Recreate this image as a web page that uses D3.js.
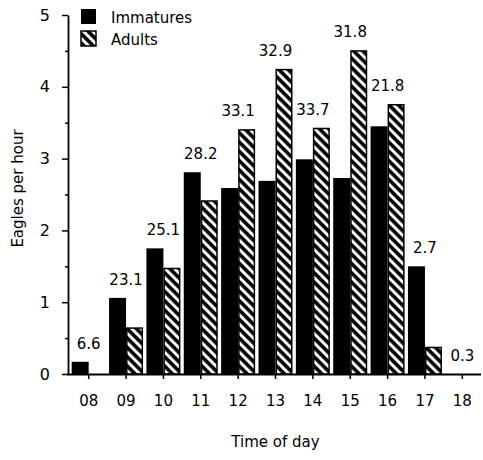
<!DOCTYPE html>
<html>
<head>
<meta charset="utf-8">
<script src="https://cdn.jsdelivr.net/npm/d3@7"></script>
<style>
  body { margin: 0; background: #fff; }
  svg { display: block; font-family: "DejaVu Sans", sans-serif; }
  text { fill: #000; }
</style>
</head>
<body>
<div id="chart"></div>
<script>
// Data
const hours = ["08", "09", "10", "11", "12", "13", "14", "15", "16", "17", "18"];
const immatures = [0.17, 1.06, 1.75, 2.81, 2.59, 2.69, 2.99, 2.73, 3.45, 1.50, 0];
const adults = [0.01, 0.65, 1.48, 2.42, 3.41, 4.25, 3.43, 4.51, 3.76, 0.38, 0];
const barLabels = ["6.6", "23.1", "25.1", "28.2", "33.1", "32.9", "33.7", "31.8", "21.8", "2.7", "0.3"];
const series = ["Immatures", "Adults"];
const yTicks = [0, 1, 2, 3, 4, 5];

const width = 483;
const height = 460;
const margin = { top: 15, right: 2, bottom: 86, left: 70 };

const svg = d3.select("#chart")
  .append("svg")
  .attr("width", width)
  .attr("height", height);

// diagonal hatch for adults
svg.append("defs").append("pattern")
  .attr("id", "hatch")
  .attr("patternUnits", "userSpaceOnUse")
  .attr("width", 6.6)
  .attr("height", 6.6)
  .attr("patternTransform", "rotate(45)")
  .call(p => {
    p.append("rect").attr("width", 6.6).attr("height", 6.6).attr("fill", "#fff");
    p.append("rect").attr("width", 6.6).attr("height", 3.6).attr("fill", "#000");
  });

const x0 = d3.scaleBand()
  .domain(hours)
  .range([margin.left, width - margin.right])
  .paddingInner(0.09)
  .paddingOuter(0.045);

const x1 = d3.scaleBand()
  .domain(series)
  .range([0, x0.bandwidth()]);

const y = d3.scaleLinear()
  .domain([0, 5])
  .range([height - margin.bottom, margin.top]);

const rows = hours.map((h, i) => ({ hour: h, Immatures: immatures[i], Adults: adults[i], label: barLabels[i] }));

// bars
const group = svg.append("g")
  .selectAll("g")
  .data(rows)
  .enter().append("g")
  .attr("transform", d => `translate(${x0(d.hour)},0)`);

group.append("rect")
  .attr("x", x1("Immatures"))
  .attr("y", d => y(d.Immatures))
  .attr("width", x1.bandwidth())
  .attr("height", d => y(0) - y(d.Immatures))
  .attr("fill", "#000");

group.filter(d => d.Adults > 0.05).append("rect")
  .attr("x", x1("Adults") + 0.75)
  .attr("y", d => y(d.Adults) + 0.75)
  .attr("width", x1.bandwidth() - 1.5)
  .attr("height", d => y(0) - y(d.Adults) - 0.75)
  .attr("fill", "url(#hatch)")
  .attr("stroke", "#000")
  .attr("stroke-width", 1.5);

// value labels above the taller bar
group.append("text")
  .attr("x", x0.bandwidth() / 2)
  .attr("y", d => y(Math.max(d.Immatures, d.Adults)) - 13)
  .attr("text-anchor", "middle")
  .attr("font-size", 15)
  .text(d => d.label);

// x axis
const xAxis = svg.append("g")
  .attr("transform", `translate(0,${y(0)})`)
  .call(d3.axisBottom(x0).tickSize(5).tickPadding(16).tickSizeOuter(0));
xAxis.select(".domain").attr("d", `M${margin.left - 3},0.5H${width - margin.right}`).attr("stroke-width", 1.8);
xAxis.selectAll(".tick line").attr("stroke-width", 1.5);
xAxis.selectAll("text").attr("font-size", 15).attr("font-family", "DejaVu Sans");

// y axis with half-unit minor ticks
svg.append("g")
  .attr("transform", `translate(${margin.left - 2},0)`)
  .call(d3.axisLeft(y).tickValues(d3.range(0.5, 5, 1)).tickSize(3).tickFormat(""))
  .call(g => g.select(".domain").remove())
  .selectAll("line").attr("stroke-width", 1.5);

const yAxis = svg.append("g")
  .attr("transform", `translate(${margin.left - 2},0)`)
  .call(d3.axisLeft(y).tickValues(yTicks).tickFormat(d3.format("d")).tickSize(6).tickPadding(12).tickSizeOuter(0));
yAxis.select(".domain").attr("stroke-width", 1.8);
yAxis.selectAll(".tick line").attr("stroke-width", 1.5);
yAxis.selectAll("text").attr("font-size", 16).attr("font-family", "DejaVu Sans");

// axis titles
svg.append("text")
  .attr("x", (margin.left + width - margin.right) / 2)
  .attr("y", 447)
  .attr("text-anchor", "middle")
  .attr("font-size", 15)
  .text("Time of day");

svg.append("text")
  .attr("transform", `translate(23,${(margin.top + y(0)) / 2 - 6}) rotate(-90)`)
  .attr("text-anchor", "middle")
  .attr("font-size", 15)
  .text("Eagles per hour");

// legend
const legend = svg.append("g")
  .selectAll("g")
  .data(series)
  .enter().append("g")
  .attr("transform", (d, i) => `translate(81,${9 + i * 22})`);

legend.append("rect")
  .attr("width", 15)
  .attr("height", 15)
  .attr("fill", d => d === "Adults" ? "url(#hatch)" : "#000")
  .attr("stroke", "#000")
  .attr("stroke-width", d => d === "Adults" ? 1.5 : 0);

legend.append("text")
  .attr("x", 30)
  .attr("y", 14)
  .attr("font-size", 15)
  .text(d => d);
</script>
</body>
</html>
